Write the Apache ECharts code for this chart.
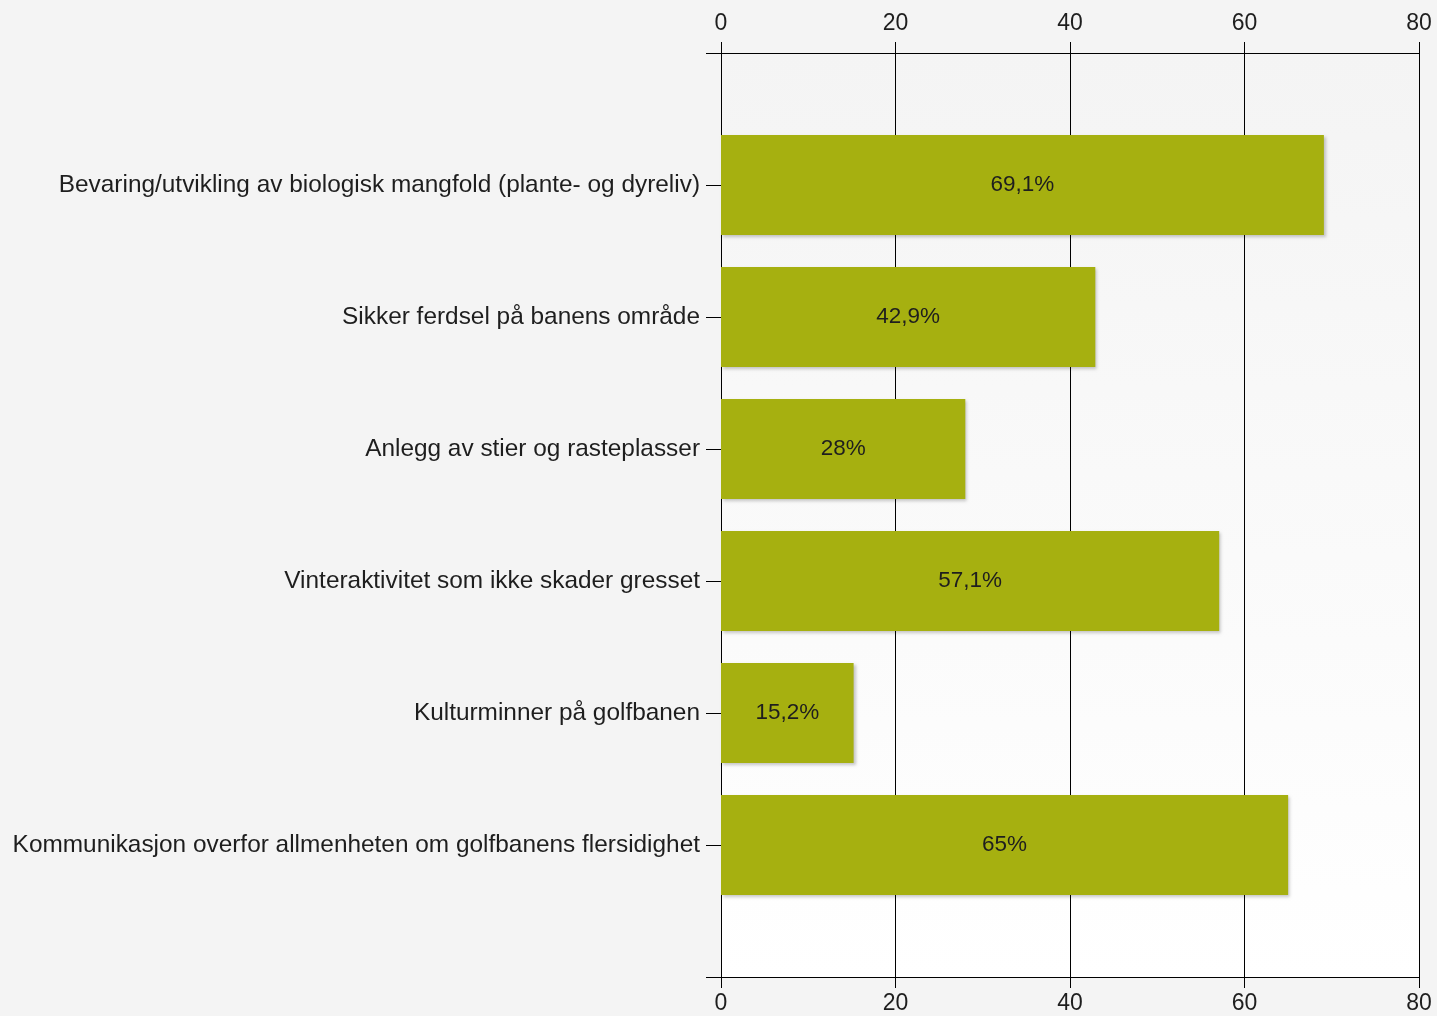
<!DOCTYPE html>
<html>
<head>
<meta charset="utf-8">
<script src="https://cdn.jsdelivr.net/npm/echarts@6/dist/echarts.min.js"></script>
<style>
html,body{margin:0;padding:0;background:#f4f4f4;}
#chart{width:1437px;height:1016px;}
</style>
</head>
<body>
<div id="chart"></div>
<script>
const categories = [
  'Bevaring/utvikling av biologisk mangfold (plante- og dyreliv)',
  'Sikker ferdsel på banens område',
  'Anlegg av stier og rasteplasser',
  'Vinteraktivitet som ikke skader gresset',
  'Kulturminner på golfbanen',
  'Kommunikasjon overfor allmenheten om golfbanens flersidighet'
];
const values = [69.1, 42.9, 28, 57.1, 15.2, 65];
const xTicks = [0, 20, 40, 60, 80];

const axisCats = [''].concat(categories, ['']);
const barData = ['-'].concat(values, ['-']);
const FONT = '"Liberation Sans", Arial, sans-serif';
const TXT = '#1e1e1e';

const chart = echarts.init(document.getElementById('chart'));
const xCommon = {
  type: 'value',
  min: xTicks[0],
  max: xTicks[xTicks.length - 1],
  interval: xTicks[1] - xTicks[0],
  axisLine: { show: true, lineStyle: { color: '#000', width: 1 } },
  axisTick: { show: true, length: 11, lineStyle: { color: '#000', width: 1 } },
};
chart.setOption({
  backgroundColor: '#f4f4f4',
  animation: false,
  grid: {
    left: 721, right: 18, top: 53, bottom: 39,
    show: true, borderWidth: 0,
    backgroundColor: new echarts.graphic.LinearGradient(0, 0, 0, 1, [
      { offset: 0, color: '#f4f4f4' },
      { offset: 1, color: '#ffffff' }
    ])
  },
  xAxis: [
    Object.assign({}, xCommon, {
      position: 'top',
      axisLabel: { fontSize: 23, color: TXT, fontFamily: FONT, margin: 18 },
      splitLine: { show: true, lineStyle: { color: '#000', width: 1 } }
    }),
    Object.assign({}, xCommon, {
      position: 'bottom',
      axisLabel: { fontSize: 23, color: TXT, fontFamily: FONT, margin: 15 },
      splitLine: { show: false }
    })
  ],
  yAxis: {
    type: 'category',
    inverse: true,
    boundaryGap: false,
    data: axisCats,
    axisLine: { show: true, lineStyle: { color: '#000', width: 1 } },
    axisTick: { show: true, length: 15, alignWithLabel: true, lineStyle: { color: '#000', width: 1 } },
    axisLabel: { fontSize: 24.4, color: TXT, fontFamily: FONT, margin: 21, interval: 0 },
    splitLine: { show: false }
  },
  series: [{
    type: 'bar',
    xAxisIndex: 0,
    data: barData,
    barWidth: 100,
    itemStyle: {
      color: '#a6b010',
      shadowColor: 'rgba(0,0,0,0.22)',
      shadowBlur: 3,
      shadowOffsetX: 2,
      shadowOffsetY: 2
    },
    label: {
      show: true,
      position: 'inside',
      fontSize: 22.5,
      color: TXT,
      fontFamily: FONT,
      formatter: p => String(p.value).replace('.', ',') + '%'
    }
  }]
});
</script>
</body>
</html>
